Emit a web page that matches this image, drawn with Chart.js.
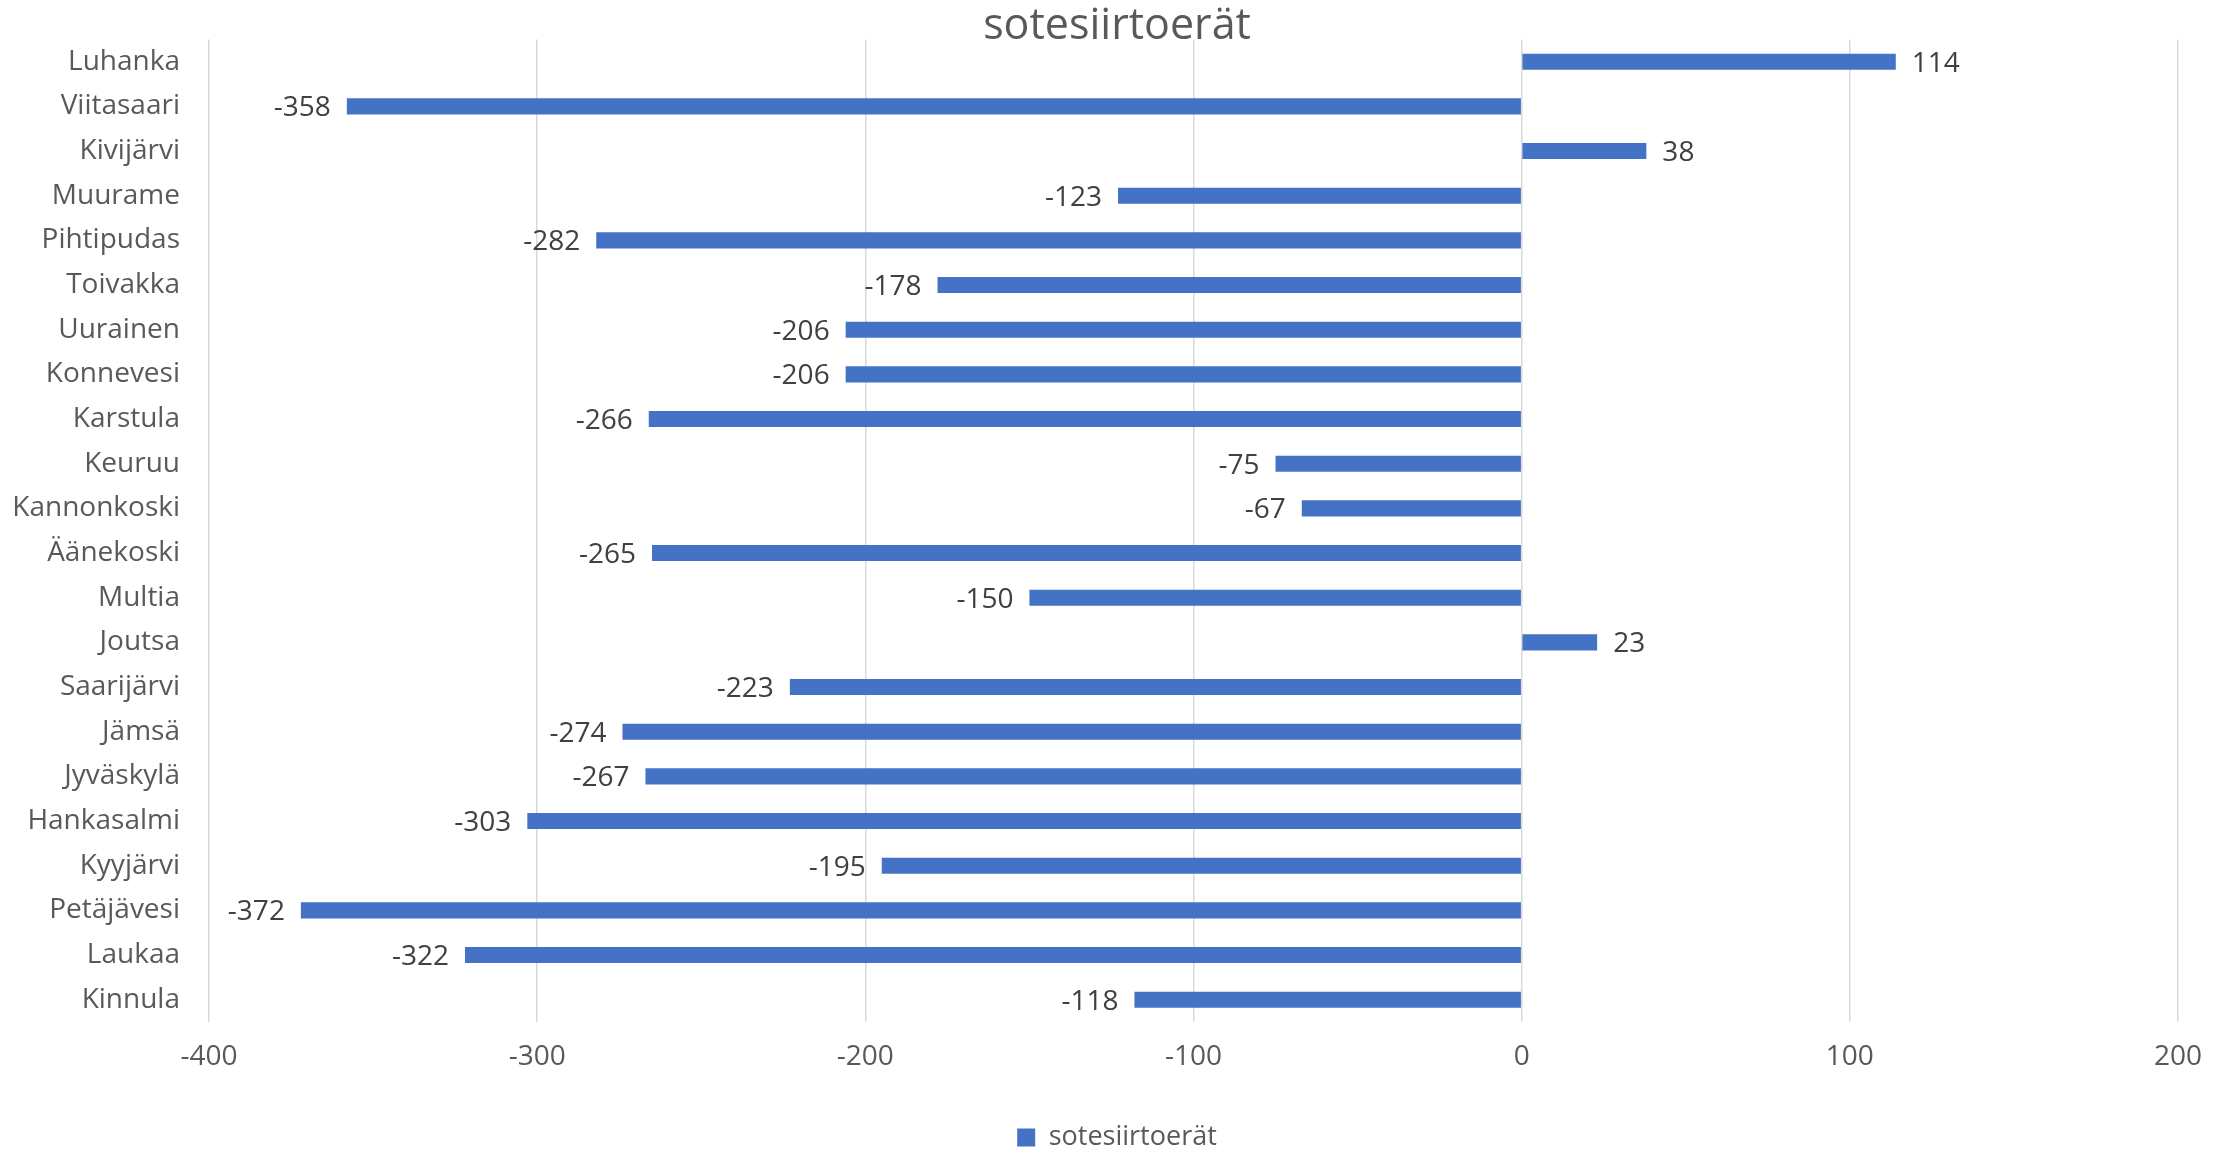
<!DOCTYPE html>
<html lang="fi">
<head>
  <meta charset="UTF-8">
  <title>sotesiirtoerät</title>
  <script src="https://cdn.jsdelivr.net/npm/chart.js"></script>
  <style>
    body { margin: 0; background: #fff; }
    #wrap { width: 2234px; height: 1153px; }
  </style>
</head>
<body>
  <div id="wrap"><canvas id="chart"></canvas></div>
  <script>
    // kunnat ylhäältä alas
    const municipalities = ['Luhanka', 'Viitasaari', 'Kivijärvi', 'Muurame', 'Pihtipudas', 'Toivakka',
      'Uurainen', 'Konnevesi', 'Karstula', 'Keuruu', 'Kannonkoski', 'Äänekoski', 'Multia', 'Joutsa',
      'Saarijärvi', 'Jämsä', 'Jyväskylä', 'Hankasalmi', 'Kyyjärvi', 'Petäjävesi', 'Laukaa', 'Kinnula'];
    const transfers = [114, -358, 38, -123, -282, -178, -206, -206, -266, -75, -67, -265, -150, 23,
      -223, -274, -267, -303, -195, -372, -322, -118];
    const xTicks = [-400, -300, -200, -100, 0, 100, 200];

    const FONT = "'Open Sans', sans-serif";

    // arvot palkkien päihin
    const valueLabels = {
      id: 'valueLabels',
      afterDatasetsDraw(chart) {
        const { ctx } = chart;
        const meta = chart.getDatasetMeta(0);
        ctx.save();
        ctx.font = '28px ' + FONT;
        ctx.fillStyle = '#404040';
        ctx.textBaseline = 'middle';
        meta.data.forEach((bar, i) => {
          const v = transfers[i];
          if (v >= 0) {
            ctx.textAlign = 'left';
            ctx.fillText(String(v), bar.x + 16, bar.y + 2);
          } else {
            ctx.textAlign = 'right';
            ctx.fillText(String(v), bar.x - 16, bar.y + 2);
          }
        });
        ctx.restore();
      }
    };

    new Chart(document.getElementById('chart'), {
      type: 'bar',
      data: {
        labels: municipalities,
        datasets: [{
          label: 'sotesiirtoerät',
          data: transfers,
          backgroundColor: '#4472C4',
          borderWidth: 0,
          barPercentage: 0.36,
          categoryPercentage: 1.0
        }]
      },
      options: {
        indexAxis: 'y',
        responsive: true,
        maintainAspectRatio: false,
        animation: false,
        layout: { padding: { top: 0, left: 0, right: 0, bottom: -8 } },
        plugins: {
          title: {
            display: true,
            text: 'sotesiirtoerät',
            color: '#595959',
            font: { family: FONT, size: 43, weight: 'normal', lineHeight: 0.8 },
            padding: { top: 10, bottom: -5 }
          },
          legend: {
            position: 'bottom',
            labels: {
              color: '#595959',
              font: { family: FONT, size: 27 },
              boxWidth: 18,
              boxHeight: 18,
              padding: 2
            }
          },
          tooltip: { enabled: false }
        },
        scales: {
          x: {
            min: -400,
            max: 200,
            afterBuildTicks(scale) {
              scale.ticks = xTicks.map(v => ({ value: v }));
            },
            afterFit(scale) {
              scale.height = 100;
              scale.paddingLeft = 0;
              scale.paddingRight = 0;
            },
            ticks: {
              color: '#595959',
              font: { family: FONT, size: 28 },
              padding: 18
            },
            grid: { color: '#d9d9d9', lineWidth: 1.5, drawTicks: false },
            border: { display: false }
          },
          y: {
            afterFit(scale) {
              scale.width = 209;
              scale.paddingTop = 0;
              scale.paddingBottom = 0;
            },
            ticks: {
              color: '#595959',
              font: { family: FONT, size: 28 },
              padding: 29
            },
            grid: { display: false, drawTicks: false },
            border: { display: false }
          },
          // tyhjä akseli oikealle, jotta otsikko ja selite pysyvät keskellä
          yRight: {
            type: 'category',
            position: 'right',
            labels: municipalities,
            afterFit(scale) { scale.width = 56; },
            ticks: { display: false },
            grid: { display: false, drawTicks: false },
            border: { display: false }
          }
        }
      },
      plugins: [valueLabels]
    });
  </script>
</body>
</html>
